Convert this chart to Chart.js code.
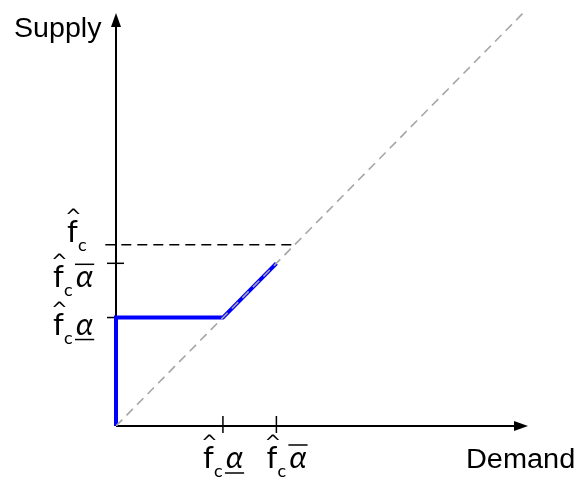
<!DOCTYPE html>
<html>
<head>
<meta charset="utf-8">
<title>Supply vs Demand</title>
<script src="https://cdn.jsdelivr.net/npm/chart.js@4.4.1/dist/chart.umd.min.js"></script>
<style>
  html, body { margin: 0; padding: 0; background: #fff; }
  #wrap { width: 584px; height: 483px; position: relative; }
</style>
</head>
<body>
<div id="wrap"><canvas id="chart"></canvas></div>
<script>
// Supply curve: zero until the lower threshold, flat, then tracking demand
const supplyX = [0, 0, 1, 1.5];
const supplyY = [0, 1, 1, 1.5];
// 45-degree reference (supply = demand)
const diagX = [0, 3.84];
const diagY = [0, 3.84];
// Capacity level f̂c
const capacity = 1.67;
// Tick values and which bar the alpha symbol carries
const xTicks = [1, 1.5];
const xTickBars = ['under', 'over'];
const yTicks = [1, 1.5, 1.67];
const yTickBars = ['under', 'over', null];
const xTitle = 'Demand';
const yTitle = 'Supply';

const toPoints = (xs, ys) => xs.map((v, i) => ({ x: v, y: ys[i] }));

// draws f̂ with subscript c and optional α with over/under bar; baseline at (bx, by)
function drawTickLabel(ctx, bx, by, bar) {
  ctx.save();
  ctx.fillStyle = '#000';
  ctx.textBaseline = 'alphabetic';
  ctx.textAlign = 'left';
  ctx.font = '31px Lato';
  ctx.fillText('f', bx, by);
  // circumflex over the f
  ctx.font = '20px "DejaVu Sans"';
  ctx.fillText('^', bx - 2, by - 19);
  ctx.font = '18px Lato';
  ctx.fillText('c', bx + 11, by + 9);
  if (bar) {
    ctx.font = 'italic 31px Lato';
    const ax = bx + 23;
    ctx.fillText('α', ax, by);
    const w = ctx.measureText('α').width;
    ctx.strokeStyle = '#000';
    ctx.lineWidth = 1.5;
    ctx.beginPath();
    const ly = bar === 'under' ? by + 5 : by - 23;
    ctx.moveTo(ax - 1, ly);
    ctx.lineTo(ax + w + 1, ly);
    ctx.stroke();
  }
  ctx.restore();
}

const axesPlugin = {
  id: 'arrowAxes',
  beforeDatasetsDraw(chart) {
    const { ctx, chartArea, scales: { x, y } } = chart;
    const x0 = x.getPixelForValue(0);
    const y0 = y.getPixelForValue(0);
    const yTip = chartArea.top + 10;
    const xTip = chartArea.right - 5;
    ctx.save();
    ctx.strokeStyle = '#000';
    ctx.fillStyle = '#000';
    ctx.lineWidth = 2;
    // vertical axis
    ctx.beginPath();
    ctx.moveTo(x0, y0);
    ctx.lineTo(x0, yTip + 10);
    ctx.stroke();
    ctx.beginPath();
    ctx.moveTo(x0, yTip);
    ctx.lineTo(x0 - 5, yTip + 14);
    ctx.lineTo(x0 + 5, yTip + 14);
    ctx.closePath();
    ctx.fill();
    // horizontal axis
    ctx.beginPath();
    ctx.moveTo(x0, y0);
    ctx.lineTo(xTip - 10, y0);
    ctx.stroke();
    ctx.beginPath();
    ctx.moveTo(xTip, y0);
    ctx.lineTo(xTip - 14, y0 - 5);
    ctx.lineTo(xTip - 14, y0 + 5);
    ctx.closePath();
    ctx.fill();
    // tick marks
    ctx.lineWidth = 1.5;
    xTicks.forEach(v => {
      const px = x.getPixelForValue(v);
      ctx.beginPath();
      ctx.moveTo(px, y0 - 10);
      ctx.lineTo(px, y0 + 7);
      ctx.stroke();
    });
    yTicks.forEach(v => {
      if (v === capacity) return;
      const py = y.getPixelForValue(v);
      ctx.beginPath();
      ctx.moveTo(x0 - 9, py);
      ctx.lineTo(x0 + 8, py);
      ctx.stroke();
    });
    ctx.restore();
  },
  afterDatasetsDraw(chart) {
    const { ctx, scales: { x, y } } = chart;
    const y0 = y.getPixelForValue(0);
    // axis titles
    ctx.save();
    ctx.fillStyle = '#000';
    ctx.textBaseline = 'alphabetic';
    ctx.font = '27px "Liberation Sans"';
    ctx.save();
    ctx.translate(14, 37);
    ctx.scale(1.06, 1);
    ctx.fillText(yTitle, 0, 0);
    ctx.restore();
    ctx.save();
    ctx.translate(466, 468);
    ctx.scale(1.07, 1);
    ctx.fillText(xTitle, 0, 0);
    ctx.restore();
    ctx.restore();
    // tick labels
    const xShift = [-20, -10];
    xTicks.forEach((v, i) => {
      drawTickLabel(ctx, x.getPixelForValue(v) + xShift[i], y0 + 42, xTickBars[i]);
    });
    const yPlace = [[53, 17], [53, 24], [67, -3]];
    yTicks.forEach((v, i) => {
      drawTickLabel(ctx, yPlace[i][0], y.getPixelForValue(v) + yPlace[i][1], yTickBars[i]);
    });
  }
};

new Chart(document.getElementById('chart'), {
  type: 'scatter',
  data: {
    datasets: [
      {
        data: toPoints(diagX, diagY),
        showLine: true,
        borderColor: '#a6a6a6',
        borderWidth: 1.6,
        borderDash: [9, 6],
        pointRadius: 0
      },
      {
        data: toPoints([-0.1, capacity], [capacity, capacity]),
        showLine: true,
        borderColor: '#000',
        borderWidth: 1.5,
        borderDash: [10, 6],
        pointRadius: 0,
        clip: false
      },
      {
        data: toPoints(supplyX, supplyY),
        showLine: true,
        borderColor: '#0000ff',
        borderWidth: 4,
        borderJoinStyle: 'miter',
        pointRadius: 0,
        clip: false
      }
    ]
  },
  options: {
    responsive: true,
    maintainAspectRatio: false,
    animation: false,
    layout: { padding: { left: 116, right: 51, top: 3, bottom: 57 } },
    plugins: { legend: { display: false }, tooltip: { enabled: false } },
    scales: {
      x: { type: 'linear', min: 0, max: 3.9, display: false },
      y: { type: 'linear', min: 0, max: 3.9, display: false }
    }
  },
  plugins: [axesPlugin]
});
</script>
</body>
</html>
